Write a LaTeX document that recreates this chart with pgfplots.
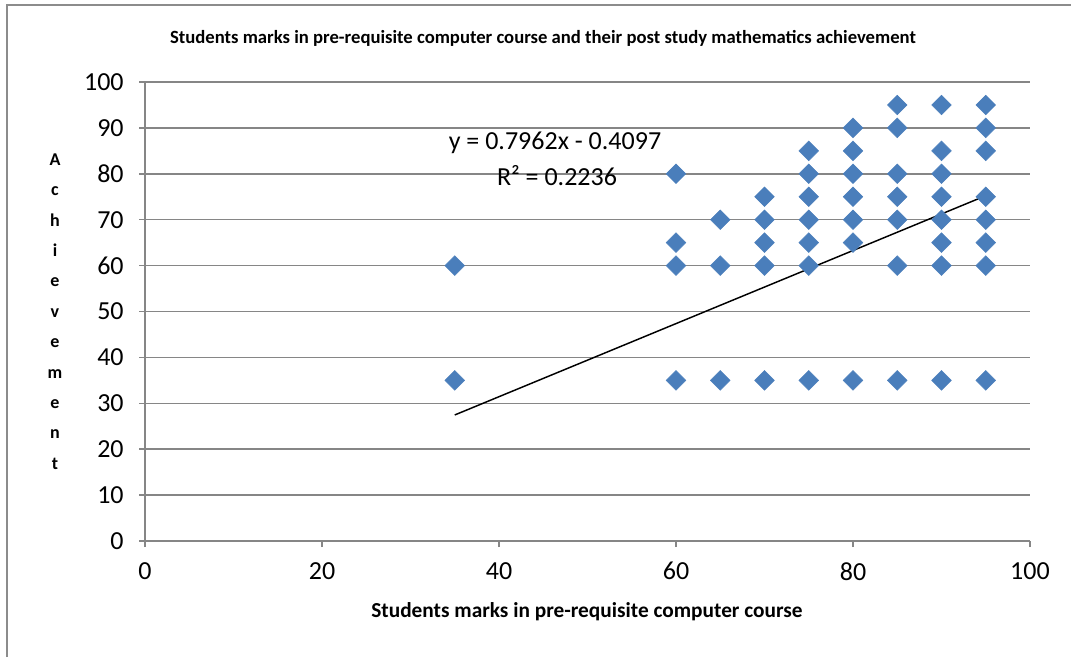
\documentclass[border=0pt]{standalone}
\usepackage{fontspec}
\setmainfont{Carlito}
\usepackage{pgfplots}
\pgfplotsset{compat=1.18}

\definecolor{markblue}{RGB}{74,126,187}
\definecolor{gridgray}{RGB}{134,134,134}
\definecolor{framegray}{RGB}{140,140,140}

\begin{document}
\begin{tikzpicture}
\path[use as bounding box, fill=white] (0pt,0pt) rectangle (803.25pt,492.75pt);
\draw[framegray, line width=1.5pt] (4.875pt,0pt) -- (4.875pt,489pt) -- (803.25pt,489pt);

\begin{axis}[
at={(108.75pt,87pt)}, anchor=south west,
scale only axis,
width=663.75pt, height=344.25pt,
xmin=0, xmax=100, ymin=0, ymax=100,
xtick={0,20,...,100},
ytick={0,10,...,100},
axis x line=bottom, axis y line=left,
axis line style={gridgray, line width=1.1pt, -},
tick align=outside,
tick pos=left,
major tick length=4.5pt,
tick style={gridgray, line width=1.1pt},
ymajorgrids,
grid style={gridgray, line width=1.1pt},
/pgf/number format/assume math mode=true,
tick label style={font=\fontsize{19.5}{22}\selectfont, text=black},
xticklabel style={yshift=-8pt},
yticklabel style={xshift=-8pt},
clip=false,
]
\addplot [only marks, mark=square*, mark size=5.2pt,
  mark options={rotate=45, draw=markblue, fill=markblue}]
coordinates {
(35,60) (35,35)
(60,80) (60,65) (60,60) (60,35)
(65,70) (65,60) (65,35)
(70,75) (70,70) (70,65) (70,60) (70,35)
(75,85) (75,80) (75,75) (75,70) (75,65) (75,60) (75,35)
(80,90) (80,85) (80,80) (80,75) (80,70) (80,65) (80,35)
(85,95) (85,90) (85,80) (85,75) (85,70) (85,60) (85,35)
(90,95) (90,85) (90,80) (90,75) (90,70) (90,65) (90,60) (90,35)
(95,95) (95,90) (95,85) (95,75) (95,70) (95,65) (95,60) (95,35)
};
% linear trendline y = 0.7962x - 0.4097
\addplot [black, line width=1.1pt] coordinates {(35,27.4573) (95,75.2293)};
\end{axis}

\node[font=\bfseries\fontsize{14}{16}\selectfont] at (407.25pt,464.25pt)
  {Students marks in pre-requisite computer course and their post study mathematics achievement};
\node[font=\bfseries\fontsize{16}{18}\selectfont] at (440.25pt,33.75pt)
  {Students marks in pre-requisite computer course};
\node[font=\bfseries\fontsize{13.5}{22.8}\selectfont, align=center, anchor=north] at (41.25pt,381pt)
  {A\\c\\h\\i\\e\\v\\e\\m\\e\\n\\t};
\node[font=\fontsize{19.5}{22}\selectfont] at (416.25pt,385.5pt) {y = 0.7962x - 0.4097};
\node[font=\fontsize{19.5}{22}\selectfont] at (417.75pt,360.75pt) {R² = 0.2236};
\end{tikzpicture}
\end{document}
